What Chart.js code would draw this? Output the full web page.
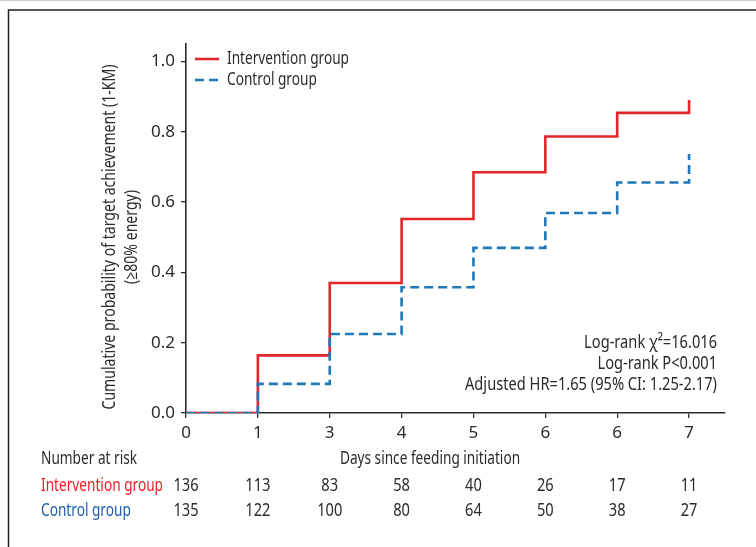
<!DOCTYPE html>
<html>
<head>
<meta charset="utf-8">
<script src="https://cdn.jsdelivr.net/npm/chart.js@4/dist/chart.umd.min.js"></script>
<style>
  html, body { margin: 0; padding: 0; background: #fff; }
  #wrap { position: relative; width: 756px; height: 547px; }
  canvas { display: block; }
</style>
</head>
<body>
<div id="wrap"><canvas id="km" width="756" height="547"></canvas></div>
<script>
// Time points (equally spaced) and their printed labels
const dayLabels = ['0', '1', '3', '4', '5', '6', '6', '7'];
// Cumulative probability of target achievement (1-KM) at each time point
const interventionCum = [0, 0.164, 0.370, 0.552, 0.685, 0.787, 0.854, 0.891];
const controlCum = [0, 0.083, 0.225, 0.358, 0.470, 0.569, 0.656, 0.737];
// Number at risk table
const riskIntervention = [136, 113, 83, 58, 40, 26, 17, 11];
const riskControl = [135, 122, 100, 80, 64, 50, 38, 27];
// Y tick values
const yTicks = [0, 0.2, 0.4, 0.6, 0.8, 1.0];

const seriesNames = ['Intervention group', 'Control group'];
const statLines = ['Log-rank \u03c7\u00b2=16.016', 'Log-rank P<0.001', 'Adjusted HR=1.65 (95% CI: 1.25-2.17)'];
const yTitleLines = ['Cumulative probability of target achievement (1-KM)', '(\u226580% energy)'];

const RED = '#e1262c';
const BLUE = '#1f78b8';
const LABEL_RED = '#ec1c24';
const LABEL_BLUE = '#1e5ea8';
const INK = '#2b2b2b';
const FACE = '"Noto Sans", "Open Sans", sans-serif';
const TEXT_FONT = '18px ' + FACE;
const TITLE_FONT = '17.5px ' + FACE;

// Draw text squeezed horizontally by factor k (condensed lettering)
function narrowText(ctx, text, x, y, align, k) {
  ctx.save();
  ctx.translate(x, y);
  ctx.scale(k, 1);
  ctx.textAlign = align;
  ctx.fillText(text, 0, 0);
  ctx.restore();
}

const toPoints = arr => arr.map((v, i) => ({ x: i, y: v }));

const decorations = {
  id: 'decorations',
  beforeDraw(chart) {
    const ctx = chart.ctx;
    ctx.save();
    // page frame
    ctx.strokeStyle = '#222';
    ctx.lineWidth = 1.5;
    ctx.beginPath();
    ctx.moveTo(8.5, 547);
    ctx.lineTo(8.5, 10);
    ctx.lineTo(756, 10);
    ctx.stroke();
    ctx.strokeStyle = '#ccc';
    ctx.lineWidth = 1;
    ctx.beginPath();
    ctx.moveTo(0, 0.5);
    ctx.lineTo(756, 0.5);
    ctx.stroke();
    ctx.restore();
  },
  afterDraw(chart) {
    const ctx = chart.ctx;
    const xs = chart.scales.x;
    const area = chart.chartArea;
    ctx.save();
    ctx.textBaseline = 'middle';

    // condensing factors for body lettering
    ctx.font = TEXT_FONT;
    const ks = 252 / ctx.measureText(statLines[2]).width;
    const k = 122 / ctx.measureText(seriesNames[0]).width;

    // y axis title (two lines, rotated)
    ctx.fillStyle = INK;
    ctx.font = TITLE_FONT;
    const kt = 345 / ctx.measureText(yTitleLines[0]).width;
    [110, 132].forEach((cx, i) => {
      ctx.save();
      ctx.translate(cx, 237);
      ctx.rotate(-Math.PI / 2);
      narrowText(ctx, yTitleLines[i], 0, 0, 'center', kt);
      ctx.restore();
    });

    // legend inside the plot
    const legendX = area.left + 9;
    const legendY = [59, 80];
    ctx.lineWidth = 2.6;
    ctx.strokeStyle = RED;
    ctx.setLineDash([]);
    ctx.beginPath();
    ctx.moveTo(legendX, legendY[0]);
    ctx.lineTo(legendX + 24, legendY[0]);
    ctx.stroke();
    ctx.strokeStyle = BLUE;
    ctx.setLineDash([9, 5]);
    ctx.beginPath();
    ctx.moveTo(legendX, legendY[1]);
    ctx.lineTo(legendX + 24, legendY[1]);
    ctx.stroke();
    ctx.setLineDash([]);
    ctx.font = TEXT_FONT;
    ctx.fillStyle = INK;
    narrowText(ctx, seriesNames[0], legendX + 32, legendY[0], 'left', k);
    narrowText(ctx, seriesNames[1], legendX + 32, legendY[1], 'left', k);

    // statistics block
    statLines.forEach((t, i) => narrowText(ctx, t, 717, 343 + i * 21, 'right', ks));

    // x axis title and number-at-risk table
    narrowText(ctx, 'Days since feeding initiation', 430, 459, 'center', k);
    narrowText(ctx, 'Number at risk', 41, 459, 'left', k);
    ctx.fillStyle = LABEL_RED;
    narrowText(ctx, seriesNames[0], 41, 486, 'left', k);
    ctx.fillStyle = LABEL_BLUE;
    narrowText(ctx, seriesNames[1], 41, 511, 'left', k);
    ctx.fillStyle = INK;
    riskIntervention.forEach((n, i) => narrowText(ctx, String(n), xs.getPixelForValue(i), 486, 'center', ks));
    riskControl.forEach((n, i) => narrowText(ctx, String(n), xs.getPixelForValue(i), 511, 'center', ks));
    ctx.restore();
  }
};

new Chart(document.getElementById('km'), {
  type: 'line',
  data: {
    datasets: [
      {
        label: seriesNames[0],
        data: toPoints(interventionCum),
        borderColor: RED,
        borderWidth: 2.6,
        stepped: 'before',
        pointRadius: 0,
        fill: false,
        order: 2
      },
      {
        label: seriesNames[1],
        data: toPoints(controlCum),
        borderColor: BLUE,
        borderWidth: 2.6,
        borderDash: [9, 5],
        stepped: 'before',
        pointRadius: 0,
        fill: false,
        order: 1
      }
    ]
  },
  options: {
    responsive: false,
    animation: false,
    devicePixelRatio: 1,
    layout: { padding: { left: 0, top: 44, right: 31, bottom: 0 } },
    plugins: { legend: { display: false }, tooltip: { enabled: false } },
    scales: {
      x: {
        type: 'linear',
        min: 0,
        max: 7.5,
        afterBuildTicks(scale) {
          scale.ticks = dayLabels.map((_, i) => ({ value: i }));
        },
        afterFit(scale) { scale.height = 134; },
        ticks: {
          autoSkip: false,
          maxRotation: 0,
          padding: 5,
          color: INK,
          font: { family: FACE, size: 17 },
          callback: v => dayLabels[v]
        },
        grid: { drawOnChartArea: false, drawTicks: true, tickLength: 5, color: INK, lineWidth: 1.3 },
        border: { color: INK, width: 1.6 }
      },
      y: {
        type: 'linear',
        min: 0,
        max: 1.05,
        afterBuildTicks(scale) {
          scale.ticks = yTicks.map(v => ({ value: v }));
        },
        afterFit(scale) { scale.width = 186; },
        ticks: {
          padding: 6,
          color: INK,
          font: { family: FACE, size: 17 },
          callback: v => Number(v).toFixed(1)
        },
        grid: { drawOnChartArea: false, drawTicks: true, tickLength: 5, color: INK, lineWidth: 1.3 },
        border: { color: INK, width: 1.6 }
      }
    }
  },
  plugins: [decorations]
});
</script>
</body>
</html>
